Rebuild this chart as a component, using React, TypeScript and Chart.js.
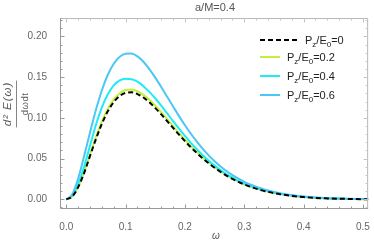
import React, { useEffect, useRef } from "react";
import { Chart, registerables } from "chart.js";

Chart.register(...registerables);

const omega = [
  0, 0.01, 0.02, 0.03, 0.04, 0.05, 0.06, 0.07, 0.08, 0.09, 0.1, 0.11, 0.12, 0.13, 0.14, 0.15, 0.16, 0.17, 0.18, 0.19,
  0.2, 0.21, 0.22, 0.23, 0.24, 0.25, 0.26, 0.27, 0.28, 0.29, 0.3, 0.31, 0.32, 0.33, 0.34, 0.35, 0.36, 0.37, 0.38, 0.39,
  0.4, 0.42, 0.44, 0.46, 0.48, 0.5, 0.51,
];
const pz0 = [
  0, 0.0034, 0.015, 0.0322, 0.0533, 0.074, 0.0928, 0.1081, 0.1194, 0.1269, 0.1307, 0.1314, 0.1293, 0.125, 0.1191, 0.112,
  0.1043, 0.096, 0.0877, 0.0794, 0.0715, 0.0639, 0.0569, 0.0503, 0.0443, 0.0387, 0.0337, 0.0291, 0.025, 0.0214, 0.0183,
  0.0155, 0.0131, 0.011, 0.0092, 0.0076, 0.0063, 0.0052, 0.0042, 0.0034, 0.0028, 0.0017, 0.0011, 0.0007, 0.0004, 0.0002,
  0.0002,
];
const pz02 = [
  0, 0.0035, 0.0155, 0.0332, 0.055, 0.0763, 0.0955, 0.1111, 0.1227, 0.1303, 0.1342, 0.1349, 0.1327, 0.1283, 0.1222, 0.1149,
  0.1069, 0.0984, 0.0898, 0.0812, 0.0731, 0.0653, 0.0581, 0.0513, 0.0451, 0.0394, 0.0343, 0.0296, 0.0254, 0.0217, 0.0185,
  0.0157, 0.0133, 0.0112, 0.0093, 0.0077, 0.0064, 0.0053, 0.0043, 0.0035, 0.0028, 0.0017, 0.0011, 0.0007, 0.0004, 0.0002,
  0.0002,
];
const pz04 = [
  0, 0.0045, 0.019, 0.04, 0.066, 0.0915, 0.113, 0.129, 0.14, 0.146, 0.148, 0.1475, 0.1445, 0.139, 0.132, 0.124, 0.115,
  0.1055, 0.096, 0.0868, 0.0778, 0.0694, 0.0615, 0.0542, 0.0475, 0.0414, 0.0359, 0.031, 0.0266, 0.0227, 0.0193, 0.0164,
  0.0139, 0.0117, 0.0098, 0.0082, 0.0068, 0.0056, 0.0046, 0.0037, 0.003, 0.0019, 0.0012, 0.0008, 0.0005, 0.0003, 0.0002,
];
const pz06 = [
  0, 0.006, 0.0255, 0.053, 0.082, 0.11, 0.134, 0.153, 0.1665, 0.175, 0.1788, 0.179, 0.1755, 0.169, 0.16, 0.1495, 0.138,
  0.126, 0.114, 0.1022, 0.091, 0.0805, 0.0708, 0.062, 0.054, 0.0468, 0.0404, 0.0347, 0.0297, 0.0253, 0.0215, 0.0182,
  0.0154, 0.013, 0.0109, 0.0091, 0.0076, 0.0063, 0.0052, 0.0042, 0.0034, 0.0022, 0.0014, 0.0009, 0.0006, 0.0003, 0.0002,
];

const seriesLabels = ["0", "0.2", "0.4", "0.6"];
const seriesColors = ["#000000", "#c2f03c", "#1cecf6", "#4cc6f6"];
const xTicks = [0, 0.1, 0.2, 0.3, 0.4, 0.5];
const yTicks = [0, 0.05, 0.1, 0.15, 0.2];
const titleText = "a/M=0.4";
const xTitle = "ω";

const FONT = "'Liberation Sans', Arial, sans-serif";

const decorPlugin = {
  id: "decor",
  afterDraw(chart: any) {
    const ctx = chart.ctx as CanvasRenderingContext2D;
    const area = chart.chartArea;
    const xs = chart.scales.x;
    const ys = chart.scales.y;
    ctx.save();
    // frame
    ctx.lineWidth = 1;
    ctx.strokeStyle = "#b8b8b8";
    ctx.beginPath();
    ctx.moveTo(area.left + 0.5, area.top + 0.5);
    ctx.lineTo(area.right - 0.5, area.top + 0.5);
    ctx.lineTo(area.right - 0.5, area.bottom - 0.5);
    ctx.stroke();
    ctx.strokeStyle = "#999999";
    ctx.beginPath();
    ctx.moveTo(area.left + 0.5, area.top);
    ctx.lineTo(area.left + 0.5, area.bottom - 0.5);
    ctx.lineTo(area.right, area.bottom - 0.5);
    ctx.stroke();
    // ticks x
    for (let i = -1; i <= 26; i++) {
      const v = i * 0.02;
      const px = Math.round(xs.getPixelForValue(v)) + 0.5;
      if (px < area.left || px > area.right) continue;
      const major = i % 5 === 0;
      const len = major ? 4.5 : 2.5;
      ctx.strokeStyle = "#999999";
      ctx.beginPath();
      ctx.moveTo(px, area.bottom);
      ctx.lineTo(px, area.bottom - len);
      ctx.stroke();
      ctx.strokeStyle = "#c4c4c4";
      ctx.beginPath();
      ctx.moveTo(px, area.top);
      ctx.lineTo(px, area.top + len);
      ctx.stroke();
    }
    // ticks y
    for (let i = -1; i <= 23; i++) {
      const v = i * 0.01;
      const py = Math.round(ys.getPixelForValue(v)) + 0.5;
      if (py < area.top || py > area.bottom) continue;
      const major = i % 5 === 0;
      const len = major ? 4.5 : 2.5;
      ctx.strokeStyle = "#999999";
      ctx.beginPath();
      ctx.moveTo(area.left, py);
      ctx.lineTo(area.left + len, py);
      ctx.stroke();
      ctx.strokeStyle = "#c4c4c4";
      ctx.beginPath();
      ctx.moveTo(area.right, py);
      ctx.lineTo(area.right - len, py);
      ctx.stroke();
    }
    // title
    ctx.fillStyle = "#555555";
    ctx.font = `11px ${FONT}`;
    ctx.textAlign = "center";
    ctx.textBaseline = "middle";
    ctx.fillText(titleText, 215, 8);
    // x title
    ctx.font = `italic 10px ${FONT}`;
    ctx.fillText(xTitle, 216, 236);
    // y title fraction
    ctx.save();
    ctx.translate(16, 104);
    ctx.rotate(-Math.PI / 2);
    ctx.fillStyle = "#5a5a5a";
    ctx.textAlign = "center";
    ctx.textBaseline = "middle";
    const num = "d² E(ω)";
    const den = "dωdt";
    ctx.font = `italic 11.5px ${FONT}`;
    (ctx as any).letterSpacing = "1px";
    const w = ctx.measureText(num).width;
    ctx.fillText(num, 0, -8.5);
    (ctx as any).letterSpacing = "0.5px";
    ctx.font = `9.5px ${FONT}`;
    ctx.fillText(den, 0, 9);
    (ctx as any).letterSpacing = "0px";
    ctx.strokeStyle = "#666666";
    ctx.lineWidth = 0.8;
    ctx.beginPath();
    ctx.moveTo(-w / 2 - 1, 0.5);
    ctx.lineTo(w / 2 + 1, 0.5);
    ctx.stroke();
    ctx.restore();
    // legend
    const rows = [40, 57, 76, 95];
    seriesLabels.forEach((lab, k) => {
      const y = rows[k];
      ctx.strokeStyle = seriesColors[k];
      ctx.lineWidth = 2;
      let lx0 = 260, lx1 = 280, tx = 287;
      if (k === 0) {
        ctx.setLineDash([5, 3]);
        lx1 = 300;
        tx = 305;
      } else {
        ctx.setLineDash([]);
      }
      ctx.beginPath();
      ctx.moveTo(lx0, y);
      ctx.lineTo(lx1, y);
      ctx.stroke();
      ctx.setLineDash([]);
      ctx.fillStyle = "#222222";
      ctx.textAlign = "left";
      ctx.textBaseline = "alphabetic";
      const base = y + 4;
      const parts: [string, boolean][] = [
        ["P", false],
        ["z", true],
        ["/E", false],
        ["0", true],
        ["=" + lab, false],
      ];
      let cx = tx;
      for (const [t, sub] of parts) {
        ctx.font = sub ? `8px ${FONT}` : `11px ${FONT}`;
        ctx.fillText(t, cx, sub ? base + 2.5 : base);
        cx += ctx.measureText(t).width;
      }
    });
    ctx.restore();
  },
};

export default function App() {
  const ref = useRef<HTMLCanvasElement | null>(null);
  useEffect(() => {
    document.body.style.margin = "0";
    const canvas = ref.current;
    if (!canvas) return;
    const series = [pz0, pz02, pz04, pz06];
    const chart = new Chart(canvas, {
      type: "line",
      data: {
        datasets: series.map((arr, k) => ({
          label: "Pz/E0=" + seriesLabels[k],
          data: omega.map((x, i) => ({ x, y: arr[i] })),
          borderColor: seriesColors[k],
          borderWidth: 2,
          borderDash: k === 0 ? [5, 3] : [],
          pointRadius: 0,
          fill: false,
          cubicInterpolationMode: "monotone" as const,
          order: k === 0 ? 0 : 5 - k,
        })),
      },
      options: {
        responsive: false,
        animation: false,
        layout: { padding: { top: 18, right: 5, left: 0, bottom: 0 } },
        plugins: {
          legend: { display: false },
          title: { display: false },
          tooltip: { enabled: false },
        },
        scales: {
          x: {
            type: "linear",
            min: -0.0106,
            max: 0.5087,
            grid: { display: false },
            border: { display: false },
            afterBuildTicks: (s: any) => {
              s.ticks = xTicks.map((v) => ({ value: v }));
            },
            afterFit: (s: any) => {
              s.height = 35;
            },
            ticks: {
              padding: 4,
              maxRotation: 0,
              color: "#666666",
              font: { family: FONT, size: 10 },
              callback: (v: any) => Number(v).toFixed(1),
            },
          },
          y: {
            type: "linear",
            min: -0.0119,
            max: 0.2227,
            grid: { display: false },
            border: { display: false },
            afterBuildTicks: (s: any) => {
              s.ticks = yTicks.map((v) => ({ value: v }));
            },
            afterFit: (s: any) => {
              s.width = 60;
            },
            ticks: {
              padding: 5,
              color: "#666666",
              font: { family: FONT, size: 10 },
              callback: (v: any) => Number(v).toFixed(2),
            },
          },
        },
      },
      plugins: [decorPlugin],
    });
    return () => chart.destroy();
  }, []);
  return (
    <div style={{ width: 374, height: 244 }}>
      <canvas ref={ref} width={374} height={244} style={{ display: "block" }} />
    </div>
  );
}
